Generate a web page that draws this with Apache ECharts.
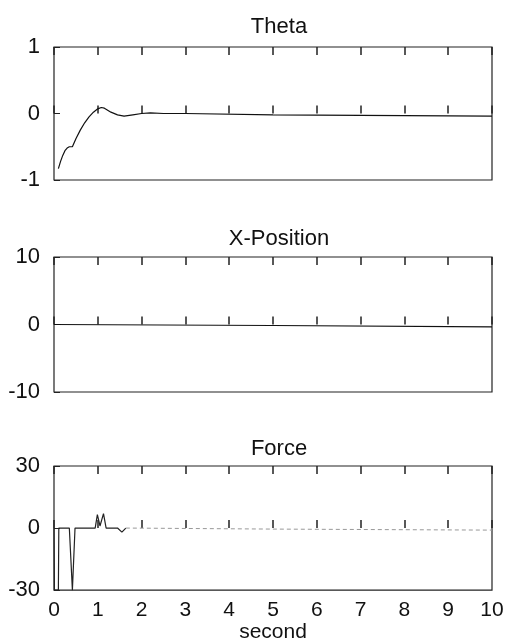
<!DOCTYPE html>
<html>
<head>
<meta charset="utf-8">
<script src="https://cdn.jsdelivr.net/npm/echarts@6/dist/echarts.min.js"></script>
<style>
html,body{margin:0;padding:0;background:#fff;}
#c{width:508px;height:644px;}
</style>
</head>
<body>
<div id="c"></div>
<script>
// ---- Data ----
var titles = ['Theta', 'X-Position', 'Force'];
var xTickMin = 0, xTickMax = 10, xTickStep = 1;
var yRanges = [[-1, 1, 1], [-10, 10, 10], [-30, 30, 30]];
var xName = 'second';

var thetaT = [0.1, 0.15, 0.2, 0.25, 0.3, 0.35, 0.42, 0.45, 0.5, 0.6, 0.7, 0.8, 0.9, 1.0, 1.08, 1.15, 1.3, 1.45, 1.6, 1.8, 2.0, 2.2, 2.5, 3, 5, 10];
var thetaV = [-0.83, -0.72, -0.63, -0.56, -0.52, -0.5, -0.5, -0.47, -0.38, -0.25, -0.14, -0.05, 0.02, 0.07, 0.09, 0.08, 0.02, -0.02, -0.04, -0.02, 0.0, 0.01, 0.0, 0.0, -0.02, -0.04];

var xPosT = [0, 5, 10];
var xPosV = [0, -0.15, -0.35];

var forceT = [0, 0.01, 0.1, 0.11, 0.2, 0.35, 0.42, 0.48, 0.94, 0.99, 1.05, 1.13, 1.19, 1.45, 1.55, 1.64];
var forceV = [0, -30, -30, 0, 0, 0, -30, 0, 0, 6.5, 1, 7, 0, 0, -2, 0];
var forceTailT = [1.64, 5, 10];
var forceTailV = [0, -0.5, -1];

function pairs(t, v) { return t.map(function (x, i) { return [x, v[i]]; }); }

var FONT = 'Liberation Sans, Arial, sans-serif';
var INK = '#111';
var grids = [
  {left: 54, top: 47, width: 438, height: 133},
  {left: 54, top: 257, width: 438, height: 135},
  {left: 54, top: 466, width: 438, height: 126}
];
var titleTops = [11, 223, 433];

var option = {
  animation: false,
  backgroundColor: '#fff',
  title: titles.map(function (t, i) {
    return {text: t, left: 274, top: titleTops[i], textAlign: 'center',
      textStyle: {fontFamily: FONT, fontSize: 22, fontWeight: 'normal', color: INK}};
  }),
  grid: grids.map(function (g) {
    return Object.assign({show: true, borderColor: '#222', borderWidth: 1.2, backgroundColor: 'transparent'}, g);
  }),
  xAxis: [],
  yAxis: [],
  series: []
};

for (var i = 0; i < 3; i++) {
  var last = (i === 2);
  option.xAxis.push({
    type: 'value', gridIndex: i, position: 'bottom', min: xTickMin, max: xTickMax, interval: xTickStep,
    axisLine: {show: false},
    axisTick: {show: true, inside: true, length: 8, lineStyle: {color: '#222', width: 1.5}},
    splitLine: {show: false},
    axisLabel: {show: last, margin: 10, fontFamily: FONT, fontSize: 21, color: INK},
    name: last ? xName : '', nameLocation: 'middle', nameGap: 31,
    nameTextStyle: {fontFamily: FONT, fontSize: 21, color: INK}
  });
  option.xAxis.push({
    type: 'value', gridIndex: i, position: 'top', min: xTickMin, max: xTickMax, interval: xTickStep,
    axisLine: {show: false},
    axisTick: {show: true, inside: true, length: 8, lineStyle: {color: '#222', width: 1.5}},
    splitLine: {show: false},
    axisLabel: {show: false}
  });
  option.yAxis.push({
    type: 'value', gridIndex: i, min: yRanges[i][0], max: yRanges[i][1], interval: yRanges[i][2],
    axisLine: {show: false},
    axisTick: {show: true, inside: true, length: 6, lineStyle: {color: '#222', width: 1}},
    splitLine: {show: false},
    axisLabel: {margin: 14, fontFamily: FONT, fontSize: 22, color: INK}
  });
}

var lineBase = {type: 'line', showSymbol: false, symbol: 'none', smooth: false, animation: false};
option.series = [
  Object.assign({}, lineBase, {name: 'Theta', xAxisIndex: 0, yAxisIndex: 0, data: pairs(thetaT, thetaV), lineStyle: {color: '#111', width: 1.2}}),
  Object.assign({}, lineBase, {name: 'X-Position', xAxisIndex: 2, yAxisIndex: 1, data: pairs(xPosT, xPosV), lineStyle: {color: '#111', width: 1.2}}),
  Object.assign({}, lineBase, {name: 'Force', xAxisIndex: 4, yAxisIndex: 2, data: pairs(forceT, forceV), lineStyle: {color: '#222', width: 1.2}}),
  Object.assign({}, lineBase, {name: 'Force tail', xAxisIndex: 4, yAxisIndex: 2, data: pairs(forceTailT, forceTailV), lineStyle: {color: '#999', width: 1, type: [4, 3]}})
];

var chart = echarts.init(document.getElementById('c'), null, {renderer: 'canvas'});
chart.setOption(option);
</script>
</body>
</html>
